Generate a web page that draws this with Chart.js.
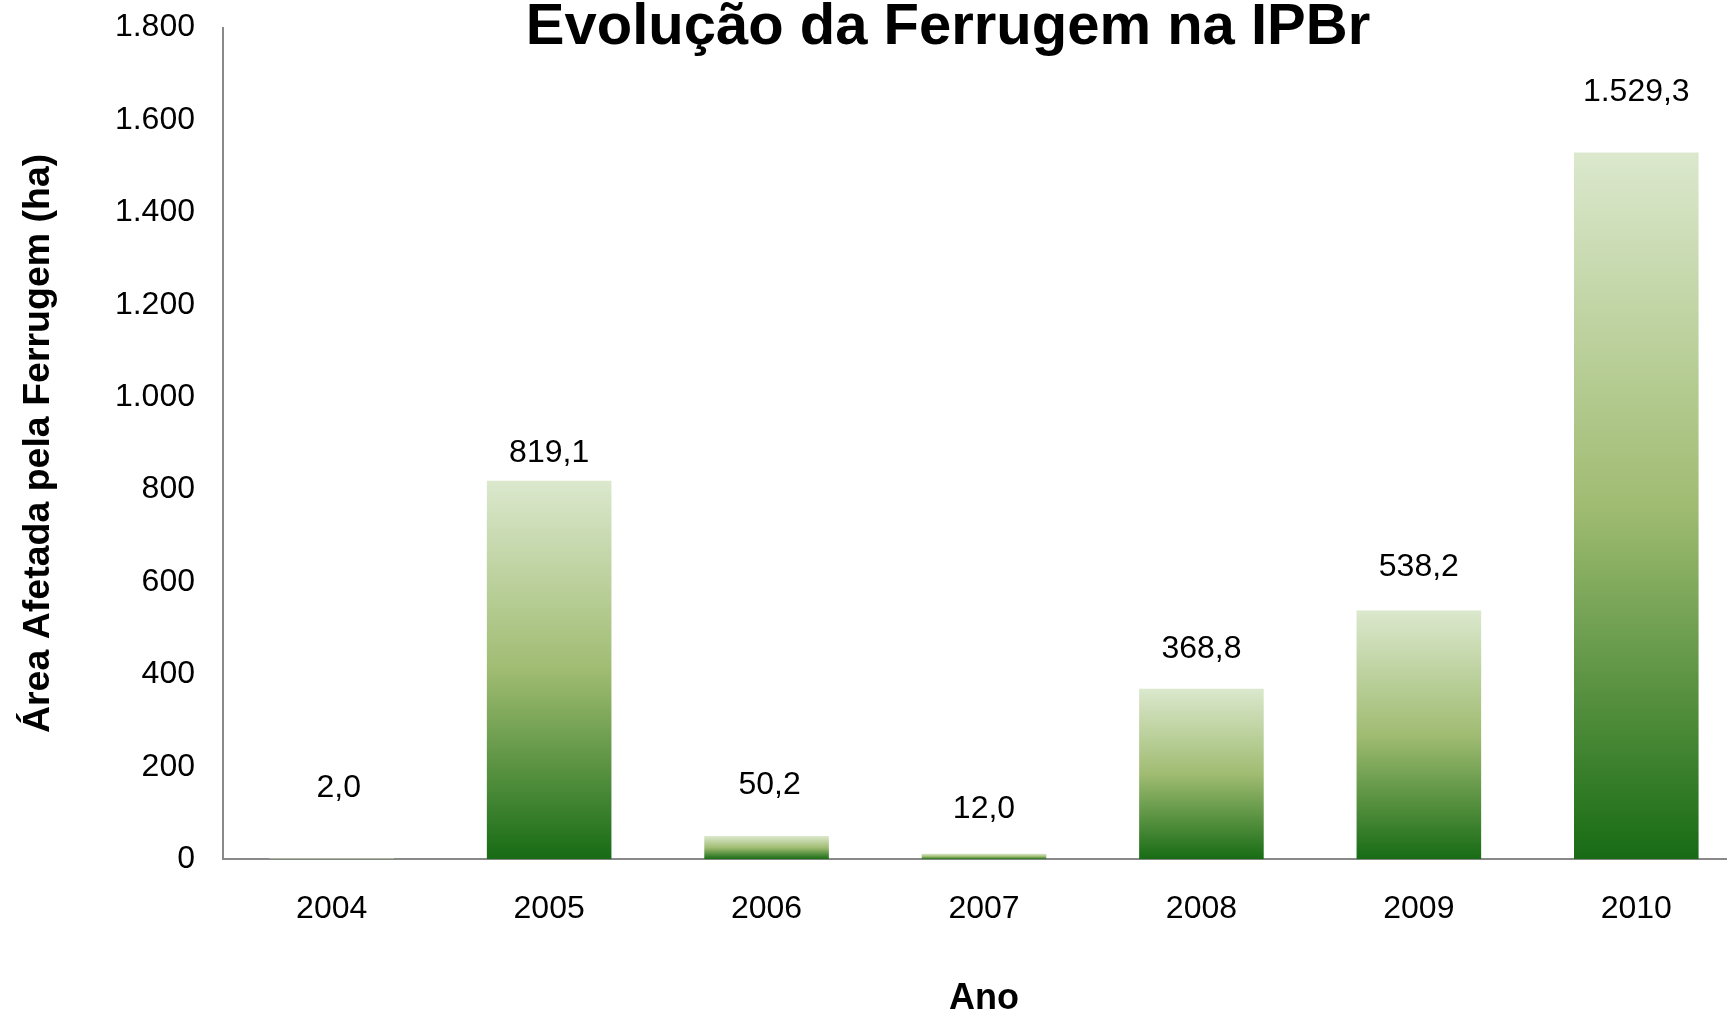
<!DOCTYPE html>
<html>
<head>
<meta charset="utf-8">
<script src="https://cdn.jsdelivr.net/npm/chart.js@4/dist/chart.umd.min.js"></script>
<style>
  html, body { margin: 0; padding: 0; background: #fff; overflow: hidden; width: 1727px; height: 1012px; }
  #wrap { position: absolute; left: 0; top: 0; width: 1745px; height: 1012px; }
</style>
</head>
<body>
<div id="wrap"><canvas id="c"></canvas></div>
<script>
const categories = ['2004', '2005', '2006', '2007', '2008', '2009', '2010'];
const areaValues = [2.0, 819.1, 50.2, 12.0, 368.8, 538.2, 1529.3];
const yTicks = [0, 200, 400, 600, 800, 1000, 1200, 1400, 1600, 1800];
const chartTitle = 'Evolução da Ferrugem na IPBr';
const yTitle = 'Área Afetada pela Ferrugem (ha)';
const xTitle = 'Ano';

function fmtBR(v, dec) {
  const s = v.toFixed(dec);
  let [intPart, frac] = s.split('.');
  intPart = intPart.replace(/\B(?=(\d{3})+(?!\d))/g, '.');
  return frac !== undefined ? intPart + ',' + frac : intPart;
}

const FONT = '"Liberation Sans", Arial, sans-serif';

const titlePlugin = {
  id: 'customTitle',
  afterDraw(chart, args, opts) {
    const c = chart.ctx;
    c.save();
    c.font = 'bold 58px ' + FONT;
    c.fillStyle = '#000';
    c.textAlign = 'center';
    c.textBaseline = 'alphabetic';
    c.fillText(opts.text, opts.x, opts.y);
    c.restore();
  }
};

const valueLabels = {
  id: 'valueLabels',
  afterDatasetsDraw(chart, args, opts) {
    const c = chart.ctx;
    const meta = chart.getDatasetMeta(0);
    c.save();
    c.font = '32px ' + FONT;
    c.fillStyle = '#000';
    c.textAlign = 'center';
    c.textBaseline = 'middle';
    meta.data.forEach((bar, i) => {
      const v = chart.data.datasets[0].data[i];
      c.fillText(fmtBR(v, 1), bar.x + opts.dx[i], bar.y - opts.offsets[i]);
    });
    c.restore();
  }
};

new Chart(document.getElementById('c'), {
  type: 'bar',
  data: {
    labels: categories,
    datasets: [{
      data: areaValues,
      borderWidth: 0,
      categoryPercentage: 1,
      barPercentage: 0.573,
      backgroundColor: (ctx) => {
        const chart = ctx.chart;
        if (!chart.chartArea || ctx.type !== 'data') return '#9fbb70';
        const y = chart.scales.y;
        const top = y.getPixelForValue(ctx.parsed.y);
        const bottom = y.getPixelForValue(0);
        const g = chart.ctx.createLinearGradient(0, top, 0, bottom);
        g.addColorStop(0, '#dbe8cd');
        g.addColorStop(0.5, '#a0bc72');
        g.addColorStop(1, '#176b14');
        return g;
      }
    }]
  },
  options: {
    responsive: true,
    maintainAspectRatio: false,
    animation: false,
    layout: { padding: { top: 27.5, right: 0, bottom: 0, left: 0 } },
    plugins: {
      legend: { display: false },
      tooltip: { enabled: false },
      title: { display: false },
      customTitle: { text: chartTitle, x: 948, y: 44 },
      valueLabels: { offsets: [70, 28, 51, 45, 40, 43, 60], dx: [7, 0, 3, 0, 0, 0, 0] }
    },
    scales: {
      x: {
        grid: { display: false, drawTicks: false },
        border: { display: true, color: '#898989', width: 2 },
        ticks: { color: '#000', font: { family: FONT, size: 32 }, padding: 31 },
        title: { display: true, text: xTitle, color: '#000', font: { family: FONT, size: 36, weight: 'bold', lineHeight: 1 }, padding: { top: 0, bottom: -5.5 } },
        afterFit(scale) { scale.height = 152.7; scale.paddingLeft = 0; scale.paddingRight = 0; }
      },
      y: {
        min: 0,
        max: 1800,
        afterBuildTicks(scale) { scale.ticks = yTicks.map(v => ({ value: v })); },
        grid: { display: false, drawTicks: false },
        border: { display: true, color: '#898989', width: 2 },
        ticks: { color: '#000', font: { family: FONT, size: 32 }, padding: 28, callback: (v) => fmtBR(v, 0) },
        title: { display: true, text: yTitle, color: '#000', font: { family: FONT, size: 37.5, weight: 'bold', lineHeight: 1.2 }, padding: { top: 16, bottom: 0 } },
        afterFit(scale) { scale.width = 223; scale.paddingTop = 0; scale.paddingBottom = 0; }
      }
    }
  },
  plugins: [titlePlugin, valueLabels]
});
</script>
</body>
</html>
